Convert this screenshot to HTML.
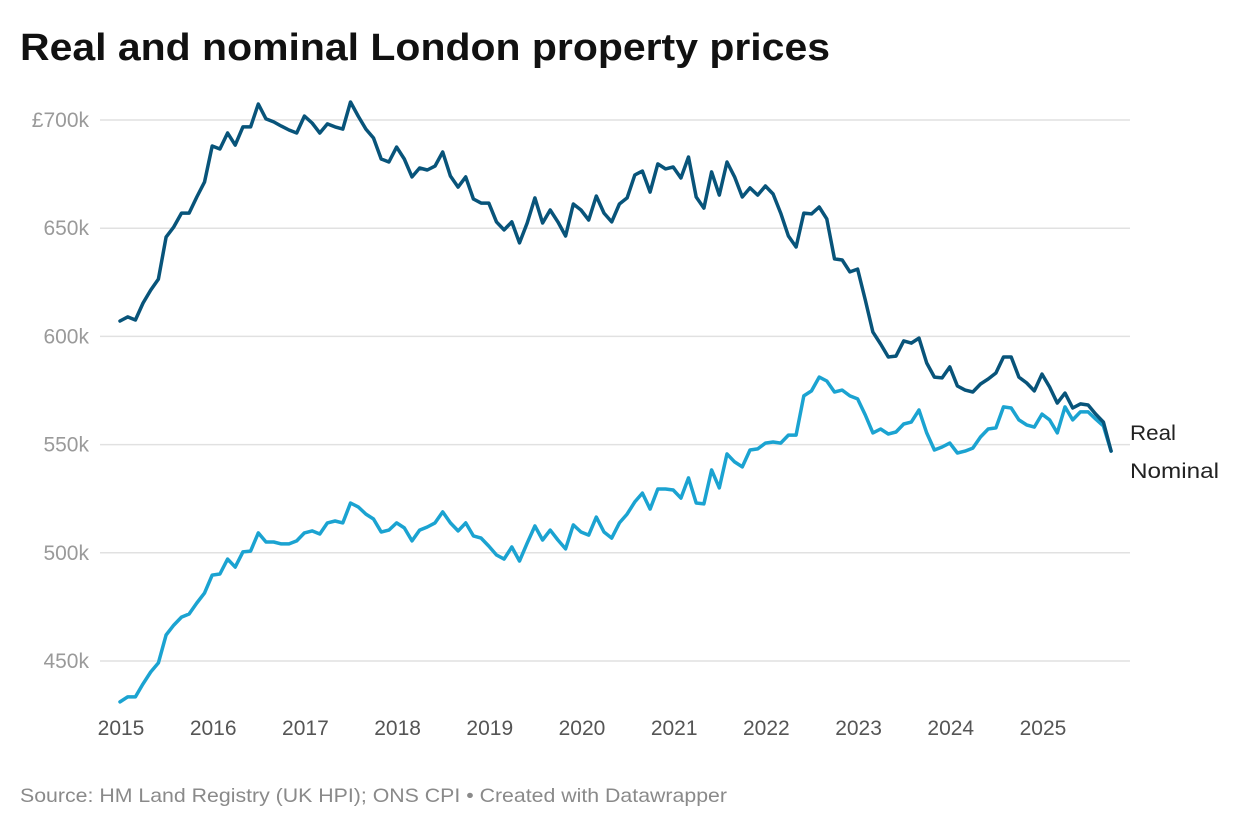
<!DOCTYPE html>
<html><head><meta charset="utf-8"><style>
body{margin:0;background:#fff;font-family:"Liberation Sans",sans-serif;}
svg text{font-family:"Liberation Sans",sans-serif;}
</style></head><body>
<svg id="chart" width="1240" height="828" xmlns="http://www.w3.org/2000/svg">
<text x="20" y="60" font-size="38" font-weight="bold" fill="#111" textLength="810" lengthAdjust="spacingAndGlyphs">Real and nominal London property prices</text>
<g id="grid"></g><g id="xaxis"></g><g id="lines"></g>
<text x="1130" y="440" font-size="21" fill="#222" textLength="46" lengthAdjust="spacingAndGlyphs">Real</text>
<text x="1130" y="478" font-size="21" fill="#222" textLength="89" lengthAdjust="spacingAndGlyphs">Nominal</text>
<text x="20" y="802" font-size="19.5" fill="#8a8a8a" textLength="707" lengthAdjust="spacingAndGlyphs">Source: HM Land Registry (UK HPI); ONS CPI • Created with Datawrapper</text>
</svg>
<script>
const yTicks=[450,500,550,600,650,700];
const yTickLabels=["450k","500k","550k","600k","650k","£700k"];
const xYears=[2015,2016,2017,2018,2019,2020,2021,2022,2023,2024,2025];
const realValues=[607.1,609.0,607.6,615.4,621.4,626.5,645.9,650.6,657.0,657.0,664.4,671.3,688.0,686.6,694.0,688.4,696.8,696.8,707.4,700.5,699.1,697.2,695.4,694.0,701.8,698.6,694.0,698.2,696.8,695.8,708.3,701.8,695.8,691.7,682.0,680.6,687.5,682.0,673.7,677.8,676.9,678.7,685.2,674.1,669.0,673.7,663.5,661.6,661.6,652.9,649.2,652.9,643.2,652.4,664.0,652.4,658.4,652.9,646.4,661.2,658.4,653.8,664.9,657.0,652.9,661.2,664.0,674.6,676.4,666.7,679.7,677.4,678.3,673.2,682.9,664.4,659.3,676.0,665.3,680.6,673.7,664.4,668.6,665.3,669.5,665.8,657.0,646.4,641.3,657.0,656.6,659.8,654.3,635.8,635.3,629.8,631.1,616.8,602.0,596.5,590.5,590.9,597.9,596.9,599.2,587.7,581.2,580.8,585.9,577.1,575.2,574.3,578.0,580.3,583.1,590.5,590.5,581.2,578.5,574.8,582.6,576.6,569.2,573.8,566.9,568.8,568.3,564.1,560.4,547.0];
const nominalValues=[431.1,433.4,433.4,439.4,444.9,449.1,462.0,466.6,470.3,471.7,476.8,481.4,489.7,490.2,497.1,493.4,500.4,500.8,509.2,505.0,505.0,504.1,504.1,505.5,509.2,510.1,508.7,513.8,514.7,513.8,523.0,521.2,517.9,515.6,509.6,510.5,513.8,511.5,505.5,510.5,511.9,513.8,518.9,513.8,510.1,513.8,507.8,506.8,503.1,499.0,497.1,502.7,496.2,504.5,512.4,505.9,510.5,505.9,501.8,512.9,509.6,508.2,516.5,509.6,506.8,513.8,517.9,523.5,527.6,520.2,529.5,529.5,529.0,525.3,534.6,523.0,522.6,538.3,530.0,545.7,542.0,539.7,547.5,548.0,550.7,551.2,550.7,554.4,554.4,572.5,574.8,581.2,579.4,574.3,575.2,572.5,571.1,563.7,555.4,557.2,554.9,555.8,559.5,560.4,566.0,555.4,547.5,548.9,550.7,546.1,547.0,548.4,553.5,557.2,557.7,567.4,566.9,561.4,559.1,558.1,564.1,561.4,555.4,567.4,561.4,565.1,565.1,561.8,558.6,547.0];
const NS="http://www.w3.org/2000/svg";
function x(i){return 120+i*7.683;}
function y(v){return 120+(700-v)*108.2/50;}
function mk(t,a,p){const e=document.createElementNS(NS,t);for(const k in a)e.setAttribute(k,a[k]);p.appendChild(e);return e;}
const grid=document.getElementById('grid');
yTicks.forEach((t,i)=>{
 const l=mk('line',{x1:100,x2:1130,y1:y(t),y2:y(t),stroke:'#e1e1e1','stroke-width':1.5},grid);
 
 
 const tx=mk('text',{x:89,y:y(t)+7,'font-size':21,fill:'#9a9a9a','text-anchor':'end'},grid);
 tx.textContent=yTickLabels[i];
 
 
});
const xa=document.getElementById('xaxis');
xYears.forEach((yr,i)=>{
 const tx=mk('text',{x:x(i*12)+1,y:735,'font-size':21,fill:'#555','text-anchor':'middle'},xa);
 tx.textContent=yr;
 
 
});
const lines=document.getElementById('lines');
function draw(vals,color,name){
 const d=vals.map((v,i)=>(i?'L':'M')+x(i).toFixed(1)+','+y(v).toFixed(1)).join('');
 const p=mk('path',{d:d,fill:'none',stroke:color,'stroke-width':3.5,'stroke-linejoin':'round','stroke-linecap':'round'},lines);
 
 
}
draw(nominalValues,'#1ba3d1','nominal-line');
draw(realValues,'#08547a','real-line');
</script>
</body></html>
